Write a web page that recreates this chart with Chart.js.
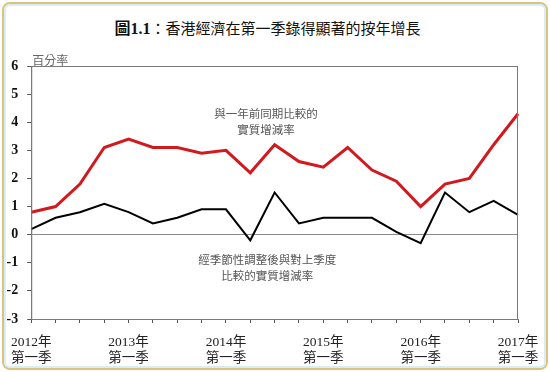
<!DOCTYPE html>
<html>
<head>
<meta charset="utf-8">
<script src="https://cdn.jsdelivr.net/npm/chart.js@4"></script>
<style>
  html, body { margin: 0; padding: 0; background: #fff; }
  #wrap { position: relative; width: 550px; height: 372px; overflow: hidden; }
  #outer { position: absolute; left: 2px; top: 2px; width: 542px; height: 364px;
           border: 2px solid #dcc27e; border-radius: 8px; }
  #inner { position: absolute; left: 0; top: 0; right: 0; bottom: 0;
           border: 2px solid #d9edf6; border-radius: 6px; }
  #title { position: absolute; left: 0; width: 535px; top: 15px; text-align: center;
           font: 15px "Noto Sans CJK TC", sans-serif; color: #111; }
  #title b { font-family: "Liberation Serif", "Noto Sans CJK TC", serif; font-size: 16px; }
  canvas { position: absolute; left: 0; top: 0; }
</style>
</head>
<body>
<div id="wrap">
  <div id="outer"><div id="inner"></div></div>
  <div id="title"><b>圖1.1</b>：香港經濟在第一季錄得顯著的按年增長</div>
  <canvas id="chart" width="550" height="372"></canvas>
</div>
<script>
// Quarters from 2012 Q1 to 2017 Q1
const quarters = [
    '2012 Q1', '2012 Q2', '2012 Q3', '2012 Q4',
    '2013 Q1', '2013 Q2', '2013 Q3', '2013 Q4',
    '2014 Q1', '2014 Q2', '2014 Q3', '2014 Q4',
    '2015 Q1', '2015 Q2', '2015 Q3', '2015 Q4',
    '2016 Q1', '2016 Q2', '2016 Q3', '2016 Q4',
    '2017 Q1'
];
// Year-on-year real growth (%)
const yoyGrowth = [0.8, 1.0, 1.8, 3.1, 3.4, 3.1, 3.1, 2.9, 3.0, 2.2, 3.2, 2.6, 2.4, 3.1, 2.3, 1.9, 1.0, 1.8, 2.0, 3.2, 4.3];
// Seasonally adjusted quarter-on-quarter real growth (%)
const qoqGrowth = [0.2, 0.6, 0.8, 1.1, 0.8, 0.4, 0.6, 0.9, 0.9, -0.2, 1.5, 0.4, 0.6, 0.6, 0.6, 0.1, -0.3, 1.5, 0.8, 1.2, 0.7];
// Tick labels
const yearTicks = ['2012年', '2013年', '2014年', '2015年', '2016年', '2017年'];
const quarterTick = '第一季';
const unitLabel = '百分率';
const yoyNote = ['與一年前同期比較的', '實質增減率'];
const qoqNote = ['經季節性調整後與對上季度', '比較的實質增減率'];

// Draws the plot box, unit label and the two series notes
const decorations = {
    id: 'decorations',
    afterDraw(chart) {
        const { ctx, chartArea: a, scales: { x, y } } = chart;
        ctx.save();
        ctx.strokeStyle = '#7a7a7a';
        ctx.lineWidth = 1;
        ctx.strokeRect(a.left + 0.5, a.top + 0.5, a.width - 1, a.height);

        ctx.fillStyle = '#666';
        ctx.font = '12px "Noto Sans CJK TC", sans-serif';
        ctx.textAlign = 'left';
        ctx.textBaseline = 'bottom';
        ctx.fillText(unitLabel, a.left + 1, a.top - 0);

        ctx.fillStyle = '#555';
        ctx.font = '11.5px "Noto Sans CJK TC", sans-serif';
        ctx.textAlign = 'center';
        ctx.textBaseline = 'middle';
        yoyNote.forEach((t, i) => ctx.fillText(t, x.getPixelForValue(9.65), y.getPixelForValue(4.3) + i * 16));
        qoqNote.forEach((t, i) => ctx.fillText(t, x.getPixelForValue(9.7), y.getPixelForValue(-0.9) + i * 16));
        ctx.restore();
    }
};

new Chart(document.getElementById('chart'), {
    type: 'line',
    data: {
        labels: quarters,
        datasets: [{
            label: 'yoy',
            data: yoyGrowth,
            borderColor: '#d2191e',
            borderWidth: 3,
            pointRadius: 0,
            tension: 0
        }, {
            label: 'qoq',
            data: qoqGrowth,
            borderColor: '#000000',
            borderWidth: 2,
            pointRadius: 0,
            tension: 0
        }]
    },
    options: {
        responsive: false,
        animation: false,
        devicePixelRatio: 1,
        layout: { padding: { left: 0, top: 66, right: 32, bottom: 0 } },
        plugins: {
            legend: { display: false },
            tooltip: { enabled: false }
        },
        scales: {
            x: {
                offset: false,
                afterFit: (scale) => { scale.height = 53; },
                border: { display: true, color: '#7a7a7a' },
                grid: {
                    drawOnChartArea: false,
                    tickLength: 4,
                    tickColor: '#555'
                },
                ticks: {
                    autoSkip: false,
                    maxRotation: 0,
                    padding: 11,
                    color: '#222',
                    font: { family: '"Liberation Serif", "Noto Sans CJK TC", serif', size: 13.5, lineHeight: 1.2 },
                    callback: (val, i) => i % 4 === 0 ? [yearTicks[i / 4], quarterTick] : ''
                }
            },
            y: {
                min: -3,
                max: 6,
                afterFit: (scale) => { scale.width = 31; },
                border: { display: true, color: '#7a7a7a' },
                grid: {
                    color: (ctx) => ctx.tick && ctx.tick.value === 0 ? '#8a8a8a' : 'rgba(0,0,0,0)',
                    tickLength: 4,
                    tickColor: '#555'
                },
                ticks: {
                    stepSize: 0.5,
                    padding: 9,
                    color: '#111',
                    font: { family: '"Liberation Serif", serif', size: 14, weight: 'bold' },
                    callback: (v) => Number.isInteger(v) ? v : ''
                }
            }
        }
    },
    plugins: [decorations]
});
</script>
</body>
</html>
